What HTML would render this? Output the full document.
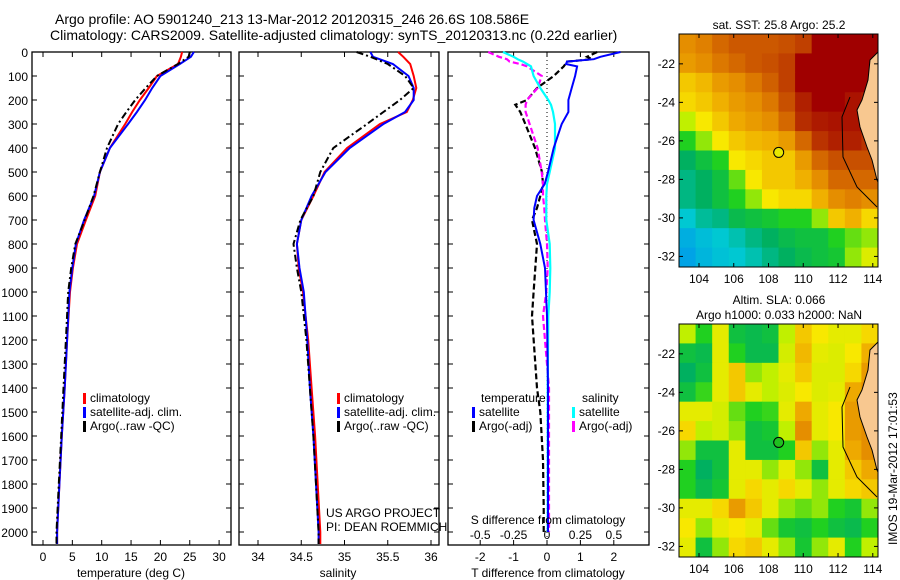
<!DOCTYPE html>
<html><head><meta charset="utf-8">
<style>
body{margin:0;background:#fff;width:900px;height:580px;overflow:hidden}
svg{display:block;font-family:"Liberation Sans",sans-serif}
text{fill:#000}
</style></head>
<body>
<svg id="fig" width="900" height="580" viewBox="0 0 900 580" xmlns="http://www.w3.org/2000/svg">
<text x="55" y="24" font-size="14">Argo profile: AO 5901240_213 13-Mar-2012 20120315_246 26.6S 108.586E</text>
<text x="50" y="40" font-size="14">Climatology: CARS2009. Satellite-adjusted climatology: synTS_20120313.nc (0.22d earlier)</text>
<g id="p1"></g>
<g id="p2"></g>
<g id="p3"></g>
<g id="m1"></g>
<g id="m2"></g>
<text font-size="12" transform="translate(897,545) rotate(-90)">IMOS 19-Mar-2012 17:01:53</text>
</svg>
<script>
// ---- profile data ----
const depths = [0,20,50,100,150,200,250,300,400,500,600,700,800,900,1000,1200,1400,1600,1800,2000,2050];
const tempClim = [23.7,23.5,23,19.4,18,16.5,15.2,14,11.4,9.7,8.9,7.3,5.8,5.1,4.6,4.1,3.7,3.2,2.8,2.4,2.4];
const tempSat  = [25.7,25.2,23.3,20,18.6,17.4,16,14.5,11.4,9.7,8.7,7,5.6,5,4.5,4.1,3.7,3.2,2.8,2.4,2.4];
const tempArgo = [25,24.8,23,19.4,17.5,15.7,14.2,12.8,10.9,9.7,8.6,7.1,5.5,4.8,4.3,3.9,3.5,3.1,2.7,2.3,2.3];
const salClim = [35.62,35.68,35.76,35.8,35.83,35.79,35.72,35.41,35.03,34.77,34.64,34.5,34.45,34.47,34.52,34.58,34.62,34.66,34.69,34.72,34.72];
const salSat  = [35.3,35.33,35.56,35.74,35.8,35.8,35.7,35.45,35.06,34.78,34.62,34.5,34.45,34.48,34.53,34.57,34.6,34.64,34.67,34.7,34.7];
const salArgo = [35.14,35.3,35.5,35.7,35.8,35.64,35.45,35.26,34.87,34.72,34.64,34.49,34.41,34.45,34.5,34.56,34.6,34.64,34.67,34.7,34.7];
const diffDepths = [0,20,30,40,50,60,100,150,200,220,250,300,400,500,550,600,650,700,800,900,1000,1100,1400,1500,1700,1900,2000];
const dTsat  = [2.2,1.6,1.4,0.6,0.57,0.9,0.84,0.74,0.64,0.64,0.64,0.44,0.2,0.03,-0.07,-0.3,-0.38,-0.4,-0.2,-0.06,-0.03,0,0.03,0.03,0.03,0.03,0.03];
const dTargo = [1.5,1.2,1.35,0.6,0.55,0.5,0.2,-0.3,-0.6,-0.95,-0.8,-0.65,-0.36,-0.15,-0.12,-0.2,-0.3,-0.45,-0.3,-0.35,-0.4,-0.45,-0.3,-0.2,-0.12,-0.1,-0.1];
const dSsat  = [-0.33,-0.25,-0.22,-0.18,-0.15,-0.12,-0.1,-0.05,0.01,0.03,0.045,0.06,0.06,0.02,0.0,-0.005,-0.005,-0.005,0.02,0.025,0.02,0.01,0.005,0.005,0.005,0.005,0.005];
const dSargo = [-0.44,-0.36,-0.3,-0.28,-0.2,-0.15,-0.04,-0.07,-0.15,-0.16,-0.16,-0.13,-0.07,-0.04,-0.03,-0.03,-0.02,-0.015,0,0.005,-0.005,-0.03,0.015,0.015,0.015,0.015,0.015];
const depthTicks = [0,100,200,300,400,500,600,700,800,900,1000,1100,1200,1300,1400,1500,1600,1700,1800,1900,2000];
const tempTicks = [0,5,10,15,20,25,30];
const salTicks = [34,34.5,35,35.5,36];
const dTTicks = [-2,-1,0,1,2];
const dSTicks = [-0.5,-0.25,0,0.25,0.5];
const dSTickLabels = ['-0.5','-0.25','0','0.25','0.5'];
// ---- map data (12 rows N->S, 12 cols W->E) ----
const sstGrid = [
[0.8,0.82,0.85,0.87,0.87,0.87,0.88,0.9,1,1,1,1],
[0.78,0.8,0.83,0.85,0.87,0.88,0.9,1,1,1,1,1],
[0.72,0.74,0.78,0.8,0.83,0.86,0.9,1,1,1,1,1],
[0.7,0.72,0.75,0.78,0.8,0.83,0.88,0.95,1,1,0.97,0.95],
[0.62,0.68,0.72,0.76,0.78,0.8,0.85,0.93,0.96,0.97,0.97,0.9],
[0.55,0.6,0.68,0.72,0.74,0.75,0.78,0.85,0.92,0.95,0.95,0.92],
[0.45,0.5,0.55,0.68,0.7,0.72,0.72,0.78,0.85,0.88,0.88,0.88],
[0.42,0.45,0.5,0.58,0.68,0.72,0.72,0.75,0.8,0.85,0.85,0.85],
[0.42,0.45,0.5,0.55,0.6,0.68,0.7,0.7,0.75,0.8,0.82,0.8],
[0.35,0.4,0.42,0.48,0.5,0.52,0.55,0.55,0.6,0.72,0.75,0.7],
[0.28,0.32,0.35,0.38,0.42,0.45,0.48,0.5,0.5,0.55,0.58,0.6],
[0.25,0.3,0.33,0.35,0.38,0.42,0.45,0.48,0.5,0.52,0.6,0.65]];
const slaGrid = [
[0.62,0.55,0.66,0.5,0.48,0.5,0.62,0.72,0.68,0.66,0.66,0.7],
[0.5,0.48,0.66,0.55,0.48,0.48,0.64,0.74,0.66,0.65,0.68,0.75],
[0.45,0.5,0.66,0.72,0.6,0.62,0.66,0.72,0.65,0.65,0.7,0.78],
[0.5,0.56,0.66,0.72,0.66,0.62,0.65,0.68,0.65,0.66,0.76,0.8],
[0.66,0.66,0.64,0.58,0.55,0.56,0.66,0.76,0.66,0.68,0.78,0.8],
[0.7,0.62,0.64,0.6,0.5,0.52,0.62,0.8,0.66,0.68,0.78,0.8],
[0.6,0.5,0.5,0.66,0.5,0.5,0.55,0.72,0.6,0.66,0.76,0.8],
[0.55,0.45,0.5,0.66,0.66,0.6,0.66,0.6,0.5,0.66,0.72,0.76],
[0.55,0.48,0.52,0.66,0.7,0.66,0.7,0.66,0.6,0.66,0.7,0.72],
[0.66,0.66,0.7,0.78,0.72,0.66,0.6,0.58,0.6,0.55,0.52,0.6],
[0.68,0.6,0.66,0.68,0.66,0.58,0.52,0.5,0.55,0.5,0.48,0.55],
[0.66,0.5,0.6,0.7,0.72,0.66,0.6,0.52,0.6,0.66,0.55,0.62]];
const lonTicks = [104,106,108,110,112,114];
const latTicks = [-22,-24,-26,-28,-30,-32];
const argoLon = 108.586, argoLat = -26.6;

const NS='http://www.w3.org/2000/svg';
function el(parent,tag,attrs,text){const e=document.createElementNS(NS,tag);for(const k in attrs)e.setAttribute(k,attrs[k]);if(text!==undefined)e.textContent=text;parent.appendChild(e);return e;}
const Y0=52, YS=0.24, PB=545;
const yD = d=>Y0+d*YS;

function frame(g,x0,x1){
  const r=el(g,'rect',{x:x0,y:Y0,width:x1-x0,height:PB-Y0,fill:'none',stroke:'#000','stroke-width':1.3});
  
  depthTicks.forEach(d=>{
    el(g,'line',{x1:x0,x2:x0+5,y1:yD(d),y2:yD(d),stroke:'#000'});
    el(g,'line',{x1:x1,x2:x1-5,y1:yD(d),y2:yD(d),stroke:'#000'});
  });
}
function line(g,xs,ds,fx,color,w,dash,name){
  const pts=xs.map((v,i)=>fx(v).toFixed(1)+','+yD(ds[i]).toFixed(1)).join(' ');
  const p=el(g,'polyline',{points:pts,fill:'none',stroke:color,'stroke-width':w});
  if(dash)p.setAttribute('stroke-dasharray',dash);
  
  
}
function xTicks(g,ticks,labels,fx,ylab){
  ticks.forEach((t,i)=>{
    el(g,'line',{x1:fx(t),x2:fx(t),y1:Y0,y2:Y0+5,stroke:'#000'});
    el(g,'line',{x1:fx(t),x2:fx(t),y1:PB,y2:PB-5,stroke:'#000'});
    if(labels){const tx=el(g,'text',{x:fx(t),y:ylab,'font-size':12,'text-anchor':'middle'},labels[i]);
      }
  });
}
function legend(g,x,y,items){
  items.forEach((it,i)=>{
    el(g,'rect',{x:x,y:y+i*14-9,width:3,height:11,fill:it[0]});
    const t=el(g,'text',{x:x+7,y:y+i*14,'font-size':12},it[1]);
    
  });
}

// Panel 1: temperature
const p1=document.getElementById('p1');
const fT=t=>43+5.87*t;
frame(p1,32,231);
depthTicks.forEach(d=>{const t=el(p1,'text',{x:28,y:yD(d)+5,'font-size':12,'text-anchor':'end'},String(d));
  });
xTicks(p1,tempTicks,tempTicks.map(String),fT,561);
line(p1,tempClim,depths,fT,'#f00',2,null,'temp-climatology-line');
line(p1,tempSat,depths,fT,'#00f',2,null,'temp-satellite-line');
line(p1,tempArgo,depths,fT,'#000',2,'7,3,2,3','temp-argo-line');
legend(p1,83,402,[['#f00','climatology'],['#00f','satellite-adj. clim.'],['#000','Argo(..raw -QC)']]);
{const t=el(p1,'text',{x:131,y:577,'font-size':12,'text-anchor':'middle'},'temperature (deg C)');}

// Panel 2: salinity
const p2=document.getElementById('p2');
const fS=s=>258+86.5*(s-34);
frame(p2,239,439);
xTicks(p2,salTicks,salTicks.map(String),fS,561);
line(p2,salClim,depths,fS,'#f00',2,null,'sal-climatology-line');
line(p2,salSat,depths,fS,'#00f',2,null,'sal-satellite-line');
line(p2,salArgo,depths,fS,'#000',2,'7,3,2,3','sal-argo-line');
legend(p2,337,402,[['#f00','climatology'],['#00f','satellite-adj. clim.'],['#000','Argo(..raw -QC)']]);
{const t=el(p2,'text',{x:338,y:577,'font-size':12,'text-anchor':'middle'},'salinity');}
{const t=el(p2,'text',{x:326,y:517,'font-size':12},'US ARGO PROJECT');
 const t2=el(p2,'text',{x:326,y:531,'font-size':12},'PI: DEAN ROEMMICH');}

// Panel 3: differences
const p3=document.getElementById('p3');
const fdT=v=>547+33.4*v;
const fdS=v=>547+133.6*v;
frame(p3,448,649);
el(p3,'line',{x1:547,x2:547,y1:Y0,y2:PB,stroke:'#000','stroke-dasharray':'1,3'});
xTicks(p3,dTTicks,dTTicks.map(String),fdT,561);
dSTicks.forEach((t,i)=>{const tx=el(p3,'text',{x:fdS(t),y:539,'font-size':12,'text-anchor':'middle'},dSTickLabels[i]);});
line(p3,dTargo,diffDepths,fdT,'#000',2.2,'6,3','dT-argo-line');
line(p3,dSargo,diffDepths,fdS,'#f0f',2.2,'6,3','dS-argo-line');
line(p3,dSsat,diffDepths,fdS,'#0ff',2.2,null,'dS-satellite-line');
line(p3,dTsat,diffDepths,fdT,'#00f',2,null,'dT-satellite-line');
{const t=el(p3,'text',{x:481,y:402,'font-size':12},'temperature');
 const t2=el(p3,'text',{x:582,y:402,'font-size':12},'salinity');}
legend(p3,472,416,[['#00f','satellite'],['#000','Argo(-adj)']]);
legend(p3,572,416,[['#0ff','satellite'],['#f0f','Argo(-adj)']]);
{const t=el(p3,'text',{x:548,y:524,'font-size':12,'text-anchor':'middle'},'S difference from climatology');
 const t2=el(p3,'text',{x:548,y:577,'font-size':12,'text-anchor':'middle'},'T difference from climatology');}

// Maps
const cmapStops=[[0,[0,48,192]],[0.2,[0,144,240]],[0.35,[0,200,210]],[0.45,[0,176,96]],[0.55,[32,208,32]],[0.62,[192,240,0]],[0.68,[248,232,0]],[0.75,[240,176,0]],[0.82,[224,128,0]],[0.9,[192,64,0]],[1,[160,0,0]]];
function cmap(v){for(let i=1;i<cmapStops.length;i++){if(v<=cmapStops[i][0]){const a=cmapStops[i-1],b=cmapStops[i];const f=(v-a[0])/(b[0]-a[0]);return 'rgb('+a[1].map((c,j)=>Math.round(c+f*(b[1][j]-c))).join(',')+')';}}return 'rgb(160,0,0)';}
const LON0=102.85, LON1=114.3, LAT0=-20.45, LAT1=-32.55;
function drawMap(g,top,grid,dotFill,titles){
  const L=679,R=878,B=top+233;
  const fx=lon=>L+(lon-LON0)/(LON1-LON0)*(R-L);
  const fy=lat=>top+(lat-LAT0)/(LAT1-LAT0)*(B-top);
  const rows=grid.length, cols=grid[0].length;
  const cw=(R-L)/cols, ch=(B-top)/rows;
  grid.forEach((row,r)=>row.forEach((v,c)=>{
    const cell=el(g,'rect',{x:L+c*cw,y:top+r*ch,width:cw+0.5,height:ch+0.5,fill:cmap(v)});
    
    
  }));
  const off=top-34;
  const land=el(g,'polygon',{points:[[878,52],[870,60],[868,80],[862,100],[857,110],[860,127],[867,147],[872,160],[877,180],[878,182]].map(p=>p[0]+','+(p[1]+off)).join(' '),fill:'#f8c890',stroke:'#000','stroke-width':1});
  
  el(g,'polyline',{points:[[850,97],[842,117],[843,157],[857,187],[877,207]].map(p=>p[0]+','+(p[1]+off)).join(' '),fill:'none',stroke:'#000','stroke-width':1});
  el(g,'rect',{x:L,y:top,width:R-L,height:B-top,fill:'none',stroke:'#000','stroke-width':1});
  lonTicks.forEach(t=>{el(g,'line',{x1:fx(t),x2:fx(t),y1:top,y2:top+4,stroke:'#000'});el(g,'line',{x1:fx(t),x2:fx(t),y1:B,y2:B-4,stroke:'#000'});
    const tx=el(g,'text',{x:fx(t),y:B+16,'font-size':12,'text-anchor':'middle'},String(t));});
  latTicks.forEach(t=>{el(g,'line',{x1:L,x2:L+4,y1:fy(t),y2:fy(t),stroke:'#000'});el(g,'line',{x1:R,x2:R-4,y1:fy(t),y2:fy(t),stroke:'#000'});
    const tx=el(g,'text',{x:L-4,y:fy(t)+4,'font-size':12,'text-anchor':'end'},String(t));});
  const dot=el(g,'circle',{cx:fx(argoLon),cy:fy(argoLat),r:5,fill:dotFill,stroke:'#000','stroke-width':1});
  
  titles.forEach((s,i)=>{const tx=el(g,'text',{x:779,y:top-20+i*15+(titles.length===1?15:0),'font-size':12,'text-anchor':'middle'},s);});
}
drawMap(document.getElementById('m1'),34,sstGrid,'#e8e800',['sat. SST: 25.8 Argo: 25.2']);
drawMap(document.getElementById('m2'),324,slaGrid,'#20c020',['Altim. SLA: 0.066','Argo h1000: 0.033 h2000: NaN']);
</script>
</body></html>
